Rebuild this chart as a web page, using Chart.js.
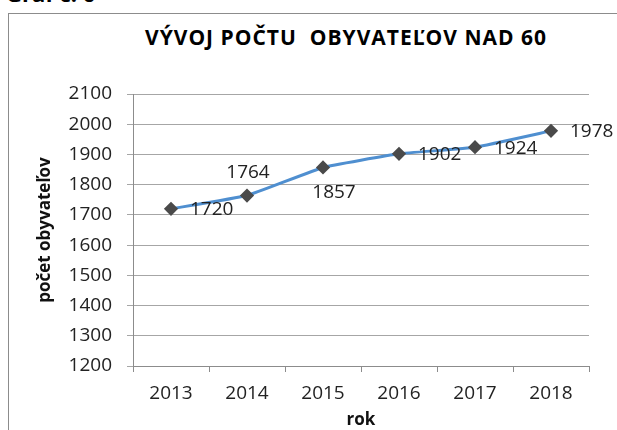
<!DOCTYPE html>
<html>
<head>
<meta charset="utf-8">
<script src="https://cdn.jsdelivr.net/npm/chart.js@4/dist/chart.umd.min.js"></script>
<style>
    html, body {
        margin: 0;
        padding: 0;
        background: #ffffff;
        overflow: hidden;
    }
    .page {
        position: relative;
        width: 617px;
        height: 430px;
        font-family: 'Open Sans', sans-serif;
    }
    .caption {
        position: absolute;
        left: 6px;
        top: -22px;
        font-size: 22px;
        font-weight: bold;
        line-height: 30px;
        color: #000;
    }
    .frame {
        position: absolute;
        left: 8px;
        top: 13px;
        width: 700px;
        height: 500px;
        border-left: 1px solid #8c8c8c;
        border-top: 1px solid #8c8c8c;
    }
    .chart-title {
        position: absolute;
        left: 0;
        width: 692px;
        top: 23px;
        text-align: center;
        font-size: 21px;
        letter-spacing: 1px;
        font-weight: bold;
        white-space: pre;
        color: #000;
    }
    canvas {
        position: absolute;
        left: 0;
        top: 0;
    }
</style>
</head>
<body>
<div class="page">
    <div class="caption">Graf č. 6</div>
    <div class="frame"></div>
    <div class="chart-title">VÝVOJ POČTU  OBYVATEĽOV NAD 60</div>
    <canvas id="populationChart" width="617" height="430"></canvas>
</div>
<script>
const years = ['2013', '2014', '2015', '2016', '2017', '2018'];
const residents = [1720, 1764, 1857, 1902, 1924, 1978];
const labelPlacement = ['right', 'above', 'below', 'right', 'right', 'right'];
const yTicks = [1200, 1300, 1400, 1500, 1600, 1700, 1800, 1900, 2000, 2100];

const valueLabels = {
    id: 'valueLabels',
    afterDatasetsDraw(chart) {
        const ctx = chart.ctx;
        const meta = chart.getDatasetMeta(0);
        ctx.save();
        ctx.font = '19px "Open Sans"';
        ctx.fillStyle = '#222';
        ctx.textBaseline = 'middle';
        meta.data.forEach((point, i) => {
            const place = labelPlacement[i];
            if (place === 'above') {
                ctx.textAlign = 'center';
                ctx.fillText(residents[i], point.x + 1, point.y - 23);
            } else if (place === 'below') {
                ctx.textAlign = 'center';
                ctx.fillText(residents[i], point.x + 11, point.y + 25);
            } else {
                ctx.textAlign = 'left';
                ctx.fillText(residents[i], point.x + 19, point.y + 1);
            }
        });
        ctx.restore();
    }
};

new Chart(document.getElementById('populationChart'), {
    type: 'line',
    data: {
        labels: years,
        datasets: [{
            data: residents,
            borderColor: '#4f8fd0',
            borderWidth: 3,
            pointStyle: 'rectRot',
            pointRadius: 5,
            pointBackgroundColor: '#4a4a4a',
            pointBorderColor: '#4a4a4a',
            tension: 0.1
        }]
    },
    options: {
        responsive: false,
        animation: false,
        layout: {
            padding: { top: 94, right: 28, left: 30, bottom: 0 }
        },
        plugins: {
            legend: { display: false },
            tooltip: { enabled: false }
        },
        scales: {
            x: {
                offset: true,
                afterFit: scale => {
                    scale.height = 64;
                },
                grid: {
                    offset: true,
                    drawOnChartArea: false,
                    tickLength: 6,
                    color: '#8c8c8c'
                },
                border: { color: '#8c8c8c' },
                ticks: {
                    color: '#222',
                    padding: 10,
                    font: { family: 'Open Sans', size: 19 }
                },
                title: {
                    display: true,
                    text: 'rok',
                    color: '#111',
                    padding: { top: 0, bottom: 0 },
                    font: { family: 'Open Sans', size: 17, weight: 'bold' }
                }
            },
            y: {
                min: 1200,
                max: 2100,
                afterBuildTicks: scale => {
                    scale.ticks = yTicks.map(v => ({ value: v }));
                },
                afterFit: scale => {
                    scale.width = 103;
                },
                grid: {
                    color: '#a6a6a6',
                    tickLength: 6
                },
                border: { color: '#8c8c8c' },
                ticks: {
                    color: '#222',
                    padding: 15,
                    font: { family: 'Open Sans', size: 19 },
                    callback: value => String(value)
                },
                title: {
                    display: true,
                    text: 'počet obyvateľov',
                    color: '#111',
                    padding: { top: 5, bottom: 0 },
                    font: { family: 'Open Sans', size: 17, weight: 'bold' }
                }
            }
        }
    },
    plugins: [valueLabels]
});
</script>
</body>
</html>
